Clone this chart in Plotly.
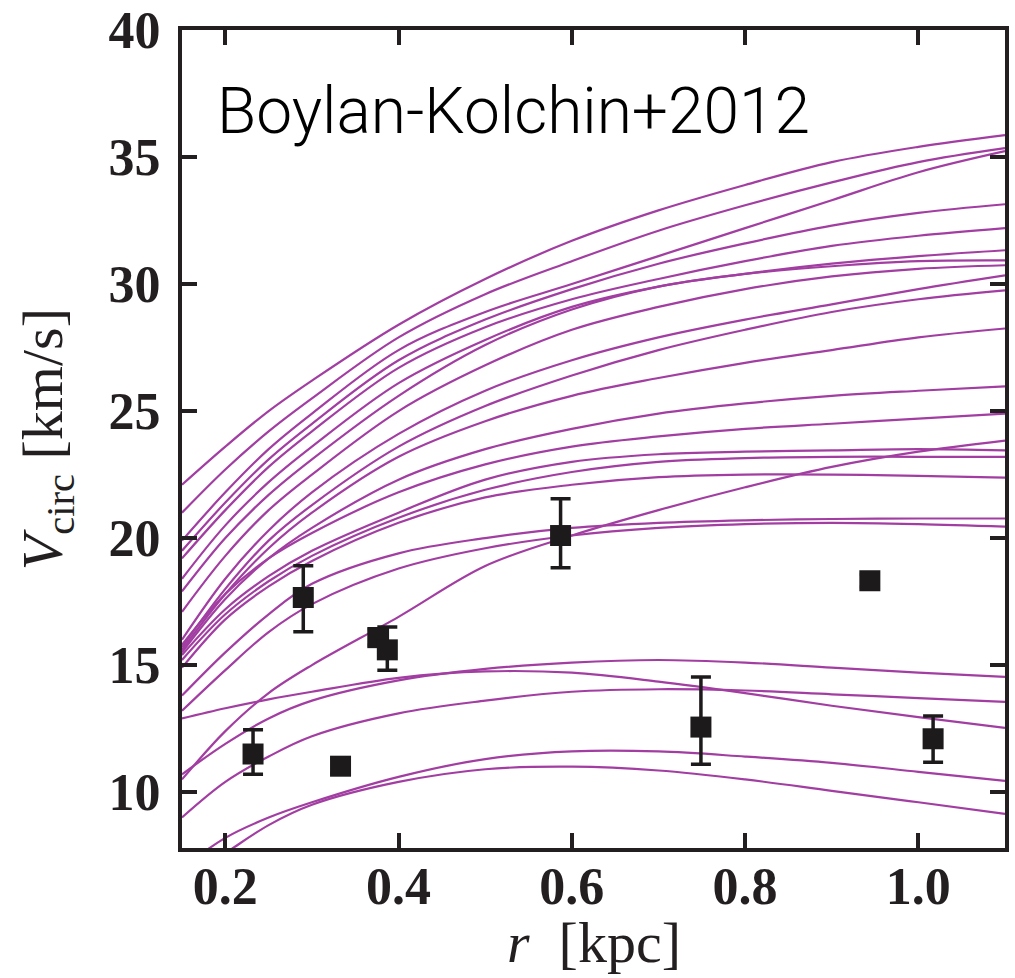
import plotly.graph_objects as go

r_grid = [0.15, 0.2, 0.25, 0.3, 0.4, 0.5, 0.6, 0.7, 0.8, 0.9, 1.0, 1.1]

# circular-velocity curves (km/s)
curve_T1 = [22.1, 23.6, 25.0, 26.2, 28.4, 30.2, 31.7, 32.9, 33.9, 34.8, 35.4, 35.86]
curve_T2 = [21.0, 22.7, 24.2, 25.5, 27.9, 29.6, 30.9, 32.1, 33.1, 34.0, 34.8, 35.35]
curve_T3 = [19.9, 21.8, 23.5, 24.9, 27.4, 28.9, 30.0, 31.1, 32.2, 33.3, 34.4, 35.23]
curve_T4 = [19.5, 21.4, 23.1, 24.5, 27.0, 28.6, 29.8, 30.8, 31.6, 32.3, 32.8, 33.14]
curve_T5 = [19.2, 21.1, 22.8, 24.2, 26.7, 28.3, 29.4, 30.2, 30.9, 31.5, 31.9, 32.2]
curve_T6 = [18.4, 20.5, 22.2, 23.6, 26.1, 27.8, 29.1, 29.9, 30.4, 30.8, 31.1, 31.33]
curve_T7 = [17.9, 20.0, 21.7, 23.1, 25.6, 27.6, 29.0, 29.9, 30.4, 30.7, 30.9, 30.93]
curve_T8 = [17.1, 19.3, 21.1, 22.5, 25.0, 26.8, 28.2, 29.1, 29.8, 30.3, 30.6, 30.74]
curve_T9 = [16.0, 18.4, 20.3, 21.8, 24.1, 25.8, 27.0, 27.9, 28.6, 29.2, 29.8, 30.34]
curve_T10 = [15.7, 18.0, 19.9, 21.3, 23.6, 25.2, 26.4, 27.4, 28.2, 28.9, 29.4, 29.75]
curve_M1 = [15.6, 17.8, 19.6, 21.0, 23.2, 24.6, 25.6, 26.3, 26.9, 27.4, 27.9, 28.25]
curve_M2 = [15.5, 17.6, 19.2, 20.4, 22.3, 23.5, 24.3, 24.9, 25.3, 25.6, 25.8, 25.97]
curve_M3 = [15.8, 17.8, 19.2, 20.2, 21.8, 22.9, 23.6, 24.0, 24.3, 24.5, 24.7, 24.9]
curve_M4 = [10.5, 12.4, 13.9, 15.0, 16.9, 18.9, 20.1, 21.1, 22.0, 22.8, 23.4, 23.84]
curve_M5 = [15.4, 17.2, 18.5, 19.5, 21.0, 22.3, 23.0, 23.3, 23.4, 23.45, 23.5, 23.45]
curve_M6 = [15.2, 17.0, 18.3, 19.3, 20.8, 21.9, 22.6, 23.0, 23.15, 23.2, 23.2, 23.2]
curve_M7 = [14.9, 16.8, 18.1, 19.1, 20.6, 21.6, 22.1, 22.4, 22.5, 22.5, 22.45, 22.38]
curve_M8 = [13.8, 15.5, 17.0, 18.2, 19.4, 20.0, 20.4, 20.6, 20.7, 20.75, 20.77, 20.77]
curve_M9 = [13.2, 14.8, 16.3, 17.4, 18.8, 19.6, 20.1, 20.4, 20.55, 20.6, 20.55, 20.45]
curve_A = [10.7, 11.9, 12.9, 13.6, 14.4, 14.85, 15.1, 15.2, 15.1, 14.9, 14.7, 14.54]
curve_L3 = [12.9, 13.3, 13.65, 13.95, 14.5, 14.75, 14.7, 14.35, 13.9, 13.4, 12.95, 12.53]
curve_B = [9.0, 10.4, 11.4, 12.2, 13.1, 13.6, 13.95, 14.05, 14.0, 13.85, 13.7, 13.55]
curve_L2 = [7.0, 8.2, 9.0, 9.6, 10.6, 11.3, 11.6, 11.6, 11.4, 11.15, 10.8, 10.44]
curve_L1 = [6.5, 7.6, 8.7, 9.5, 10.4, 10.9, 11.0, 10.85, 10.5, 10.05, 9.6, 9.14]

curves = [curve_T1, curve_T2, curve_T3, curve_T4, curve_T5, curve_T6, curve_T7,
          curve_T8, curve_T9, curve_T10, curve_M1, curve_M2, curve_M3, curve_M4,
          curve_M5, curve_M6, curve_M7, curve_M8, curve_M9, curve_A, curve_L3,
          curve_B, curve_L2, curve_L1]

# observed dwarf spheroidals
obs_r = [0.232, 0.290, 0.333, 0.376, 0.387, 0.587, 0.749, 0.944, 1.017]
obs_v = [11.5, 17.66, 11.02, 16.08, 15.6, 20.1, 12.56, 18.32, 12.1]
obs_err_up = [0.95, 1.25, 0.3, 0.35, 0.9, 1.45, 1.97, 0.25, 0.9]
obs_err_down = [0.8, 1.35, 0.3, 0.3, 0.8, 1.27, 1.46, 0.25, 0.92]

x_ticks = [0.2, 0.4, 0.6, 0.8, 1.0]
x_tick_labels = ["0.2", "0.4", "0.6", "0.8", "1.0"]
y_ticks = [10, 15, 20, 25, 30, 35, 40]
y_tick_labels = ["10", "15", "20", "25", "30", "35", "40"]

ink = "#231f20"

fig = go.Figure()
for c in curves:
    fig.add_trace(go.Scatter(x=r_grid, y=c, mode="lines",
                             line=dict(color="#a23ea2", width=2.2, shape="spline", smoothing=1.0),
                             showlegend=False, hoverinfo="skip"))

fig.add_trace(go.Scatter(
    x=obs_r, y=obs_v, mode="markers",
    marker=dict(symbol="square", size=21, color="#1c1a1b", line=dict(width=0)),
    error_y=dict(type="data", symmetric=False, array=obs_err_up, arrayminus=obs_err_down,
                 color="#1c1a1b", thickness=3.5, width=10),
    showlegend=False))

axis_common = dict(showline=True, linecolor=ink, linewidth=4, mirror="ticks",
                   ticks="inside", ticklen=15, tickwidth=4, tickcolor=ink,
                   showgrid=False, zeroline=False, automargin=False,
                   ticklabeloverflow="allow",
                   tickfont=dict(family="Liberation Serif", size=52, color=ink, weight="bold"))

fig.update_xaxes(range=[0.15, 1.1], tickvals=x_ticks, ticktext=x_tick_labels,
                 ticklabelstandoff=-10, **axis_common)
fig.update_yaxes(range=[7.8, 40], tickvals=y_ticks, ticktext=y_tick_labels,
                 ticklabelstandoff=7, **axis_common)

title_font = dict(family="Liberation Serif", size=58, color=ink)
fig.add_annotation(text="<i>r</i>  [kpc]", xref="paper", yref="paper",
                   x=0.5, y=-0.115, xanchor="center", yanchor="middle",
                   showarrow=False, font=title_font)
fig.add_annotation(text="<i>V</i><sub>circ</sub> [km/s]", xref="paper", yref="paper",
                   x=-0.165, y=0.5, xanchor="center", yanchor="middle", textangle=-90,
                   showarrow=False, font=title_font)

fig.add_annotation(text="Boylan-Kolchin+2012", xref="paper", yref="paper",
                   x=0.04, y=0.9, xanchor="left", yanchor="middle", showarrow=False,
                   font=dict(family="Roboto", size=64, color="#000000", weight=300))

fig.update_layout(width=1015, height=978, plot_bgcolor="white", paper_bgcolor="white",
                  margin=dict(l=182, r=10, t=30, b=130), hovermode=False)

# remove the page's default body margin so the figure fills the window exactly
fig.write_html("out.html", config={"displayModeBar": False},
               post_script="document.body.style.margin='0';")
